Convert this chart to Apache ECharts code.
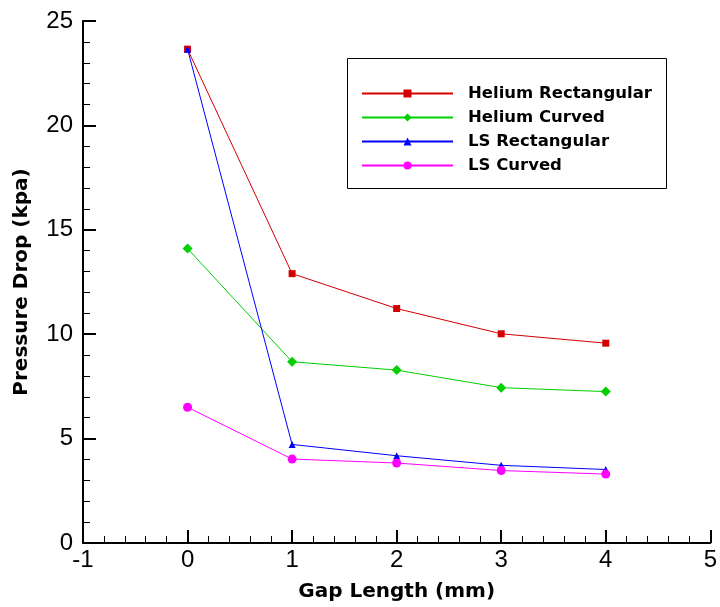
<!DOCTYPE html>
<html>
<head>
<meta charset="utf-8">
<script src="https://cdn.jsdelivr.net/npm/echarts@6/dist/echarts.min.js"></script>
<style>html,body{margin:0;padding:0;background:#fff;}#c{width:720px;height:607px;}</style>
</head>
<body>
<div id="c"></div>
<script>
const gapLength = [0, 1, 2, 3, 4];
const heliumRect = [23.65, 12.9, 11.23, 10.02, 9.57];
const heliumCurved = [14.1, 8.68, 8.28, 7.44, 7.25];
const lsRect = [23.65, 4.72, 4.18, 3.72, 3.52];
const lsCurved = [6.5, 4.02, 3.83, 3.47, 3.3];
const seriesNames = ['Helium Rectangular', 'Helium Curved', 'LS Rectangular', 'LS Curved'];

const FONT = 'Liberation Sans, Arial, sans-serif';
const BOLDFONT = 'DejaVu Sans, sans-serif';
const pairs = arr => gapLength.map((x, i) => [x, arr[i]]);

const chart = echarts.init(document.getElementById('c'));
const mk = (name, data, color, symbol, size) => ({
  name, type: 'line', data: pairs(data), symbol, symbolSize: size,
  lineStyle: { color, width: 1 }, itemStyle: { color }, animation: false
});
chart.setOption({
  backgroundColor: '#fff',
  animation: false,
  grid: { left: 83, right: 7, top: 21, bottom: 63 },
  graphic: [{
    type: 'rect', left: 347, top: 58, z: 0,
    shape: { width: 319, height: 130 },
    style: { fill: '#fff', stroke: '#000', lineWidth: 1 }
  }],
  legend: {
    orient: 'vertical', left: 361, top: 85,
    padding: 0,
    itemWidth: 91, itemHeight: 10, itemGap: 7,
    textStyle: { fontFamily: BOLDFONT, fontWeight: 'bold', fontSize: 16.5, color: '#000', padding: [0, 0, 0, 10] },
    data: seriesNames
  },
  xAxis: {
    type: 'value', min: -1, max: 5, interval: 1,
    name: 'Gap Length (mm)', nameLocation: 'middle', nameGap: 39,
    nameTextStyle: { fontFamily: BOLDFONT, fontWeight: 'bold', fontSize: 20, color: '#000' },
    axisLine: { show: true, onZero: false, lineStyle: { color: '#000', width: 2 } },
    axisTick: { show: true, inside: true, length: 13, lineStyle: { color: '#000', width: 2 } },
    minorTick: { show: true, splitNumber: 5, length: 7, lineStyle: { color: '#000', width: 1 } },
    axisLabel: { fontFamily: FONT, fontSize: 24, color: '#000', margin: 5 },
    splitLine: { show: false }
  },
  yAxis: {
    type: 'value', min: 0, max: 25, interval: 5,
    name: 'Pressure Drop (kpa)', nameLocation: 'middle', nameGap: 51,
    nameTextStyle: { fontFamily: BOLDFONT, fontWeight: 'bold', fontSize: 20, color: '#000' },
    axisLine: { show: true, onZero: false, lineStyle: { color: '#000', width: 2 } },
    axisTick: { show: true, inside: true, length: 13, lineStyle: { color: '#000', width: 2 } },
    minorTick: { show: true, splitNumber: 5, length: 7, lineStyle: { color: '#000', width: 1 } },
    axisLabel: { fontFamily: FONT, fontSize: 24, color: '#000', margin: 10 },
    splitLine: { show: false }
  },
  series: [
    mk(seriesNames[0], heliumRect, '#d40000', 'rect', 7),
    mk(seriesNames[1], heliumCurved, '#00d000', 'diamond', 10),
    mk(seriesNames[2], lsRect, '#0000ff', 'triangle', 7),
    mk(seriesNames[3], lsCurved, '#ff00ff', 'circle', 9)
  ]
});
</script>
</body>
</html>
